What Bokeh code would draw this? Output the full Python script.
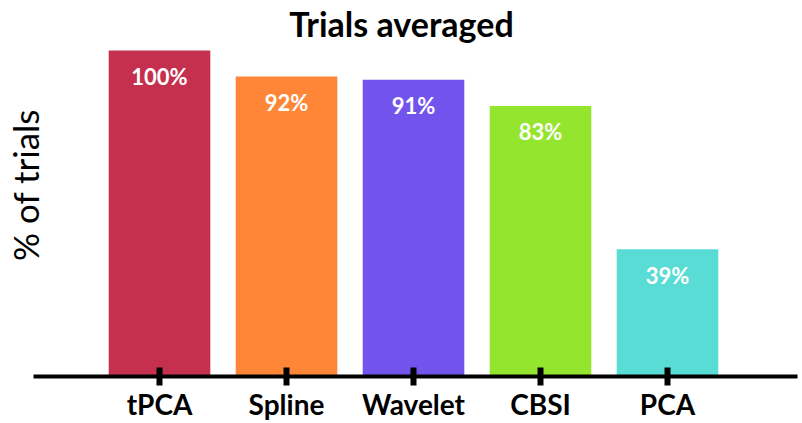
from bokeh.plotting import figure
from bokeh.models import ColumnDataSource, LabelSet, FixedTicker, Range1d
from bokeh.core.properties import value
from bokeh.embed import file_html
from bokeh.resources import INLINE

methods = ["tPCA", "Spline", "Wavelet", "CBSI", "PCA"]
percent = [100, 92, 91, 83, 39]
labels = ["100%", "92%", "91%", "83%", "39%"]
colors = ["#C5304E", "#FE8636", "#7254EC", "#94E52E", "#59DCD5"]
positions = list(range(len(methods)))

src = ColumnDataSource(dict(x=positions, top=percent, lab=labels, color=colors))

x_start, x_end = -1.252, 5.063
p = figure(width=802, height=423, output_backend="svg", toolbar_location=None,
           x_range=Range1d(x_start, x_end), y_range=Range1d(-14.42, 102.15),
           min_border_left=0, min_border_right=0, min_border_top=0, min_border_bottom=0)
p.outline_line_color = None
p.grid.visible = False
p.background_fill_color = "white"

p.title.text = "Trials averaged"
p.title.align = "center"
p.title.text_font = "Lato"
p.title.text_font_style = "bold"
p.title.text_font_size = "34px"
p.title.text_color = "black"
p.title.standoff = 0

p.vbar(x="x", top="top", width=0.8, bottom=0, color="color", line_color=None, source=src)

p.add_layout(LabelSet(x="x", y="top", text="lab", source=src, y_offset=-26,
                      text_align="center", text_baseline="middle", text_color="white",
                      text_font=value("Lato"), text_font_style="bold", text_font_size="22px"))

ya = p.yaxis[0]
ya.fixed_location = -0.90
ya.bounds = (17.4, 100)
ya.axis_label = "% of trials"
ya.axis_label_text_font = "Lato"
ya.axis_label_text_font_style = "normal"
ya.axis_label_text_font_size = "35px"
ya.axis_label_text_color = "black"
ya.axis_label_standoff = 0
ya.axis_line_color = None
ya.major_tick_line_color = None
ya.minor_tick_line_color = None
ya.major_label_text_font_size = "0px"
ya.major_tick_in = 0
ya.major_tick_out = 0
ya.major_label_standoff = 0
ya.ticker = FixedTicker(ticks=[])

xa = p.xaxis[0]
xa.fixed_location = 0
xa.bounds = (-0.992, 5.024)
xa.ticker = FixedTicker(ticks=positions)
xa.major_label_overrides = {i: m for i, m in enumerate(methods)}
xa.minor_tick_line_color = None
xa.axis_line_width = 4
xa.axis_line_color = "black"
xa.major_tick_line_width = 6
xa.major_tick_line_color = "black"
xa.major_tick_in = 9
xa.major_tick_out = 9
xa.major_label_standoff = 2
xa.major_label_text_font = "Lato"
xa.major_label_text_font_style = "bold"
xa.major_label_text_font_size = "28px"
xa.major_label_text_color = "black"

open("out.html", "w").write(file_html(p, INLINE))
